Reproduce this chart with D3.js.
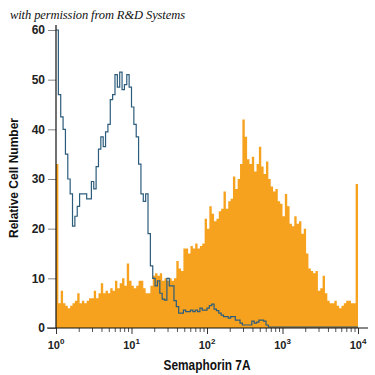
<!DOCTYPE html>
<html>
<head>
<meta charset="utf-8">
<script src="https://cdn.jsdelivr.net/npm/d3@7"></script>
<style>
  body { margin: 0; background: #fff; }
  svg { display: block; }
</style>
</head>
<body>
<svg id="chart"></svg>
<script>
// channel counts, 128 log-spaced bins from 10^0 to 10^4
var stained = [33, 5, 7.5, 5, 4.5, 4, 4.5, 5, 5.5, 7, 5, 5.5, 5, 5.5, 6, 6,
  7.5, 6, 7, 9, 7, 7.5, 7, 8, 7.5, 9.5, 8, 9, 10, 8.5, 13, 9.5,
  8.5, 8, 8.5, 9.5, 9.5, 8, 7, 7, 8.5, 10.5, 11, 10.5, 11, 9.5, 10, 9.5,
  10, 9.5, 10, 13.5, 12, 11.5, 16, 16, 15, 16.5, 16, 17, 16, 16.5, 17, 22,
  20, 24.5, 23, 21.5, 22, 23.5, 24, 27.5, 24, 25.5, 26, 30.5, 28, 30, 33, 42,
  38.5, 34, 33, 34.5, 31.5, 33, 36.5, 32.5, 31, 33.5, 30, 28.5, 27.5, 28, 25.5, 25,
  22.5, 27, 24.5, 21, 20.5, 22.5, 21, 21.5, 19, 20, 15, 12, 11.5, 11, 11.5, 7.5,
  8, 10.5, 7, 5.5, 5, 5, 5.5, 4.5, 4, 4.5, 5, 5.5, 5.5, 5, 5, 29];

var control = [60, 47, 42.5, 40, 35, 30, 27, 20.5, 22.5, 24.5, 27, 27, 27, 26, 26, 29.5,
  28, 32.5, 36, 38.5, 36.5, 39.5, 41, 46, 47, 51, 48.5, 51.5, 48, 49, 51, 48.5,
  44.5, 41, 38.5, 33, 27, 25.5, 27, 19, 12.5, 10, 8.5, 9.5, 7, 5.8, 5.6, 10,
  8.5, 8.5, 5.5, 4.3, 3, 3, 3.6, 3.3, 3.3, 3.6, 3.3, 3.6, 3.3, 4, 3.6, 3.6,
  4, 4.5, 4.8, 3.8, 3.5, 3, 2.6, 2.3, 2.3, 2, 2.3, 2.3, 1.6, 1.6, 1, 0.6,
  0.6, 0.6, 0.6, 1.4, 1, 1.2, 1.6, 1.6, 1.4, 0.6, 0.2, 0.2, 0.2, 0.2, 0.2, 0.2,
  0.2, 0.2, 0.2, 0.2, 0.2, 0.2, 0.2, 0.2, 0.2, 0.2, 0.2, 0.2, 0.2, 0.2, 0.2, 0.2,
  0.2, 0.2, 0.2, 0.2, 0.2, 0.2, 0.2, 0.2, 0.2, 0.2, 0.2, 0.2, 0.2, 0.2, 0.2, 0.2];

var yTicks = [0, 10, 20, 30, 40, 50, 60];
var decades = [0, 1, 2, 3, 4];

var width = 375, height = 375;
var svg = d3.select("#chart")
  .attr("width", width)
  .attr("height", height);

var x = d3.scaleLog().domain([1, 1e4]).range([56, 358]);
var y = d3.scaleLinear().domain([0, 60]).range([328, 30]);

var n = stained.length;
var edges = d3.range(n + 1).map(function(i) { return Math.pow(10, 4 * i / n); });

function steps(vals) {
  var pts = vals.map(function(v, i) { return [edges[i], v]; });
  pts.push([edges[n], vals[n - 1]]);
  return pts;
}

var area = d3.area()
  .curve(d3.curveStepAfter)
  .x(function(d) { return x(d[0]); })
  .y0(y(0))
  .y1(function(d) { return y(d[1]); });

var line = d3.line()
  .curve(d3.curveStepAfter)
  .x(function(d) { return x(d[0]); })
  .y(function(d) { return y(d[1]); });

svg.append("path")
  .attr("d", area(steps(stained)))
  .style("fill", "#f6a21e");

svg.append("path")
  .attr("d", line(steps(control)))
  .style("fill", "none")
  .style("stroke", "#2c5c7c")
  .style("stroke-width", "1.2px");

// y axis
var yAxis = svg.append("g")
  .attr("transform", "translate(56,0)")
  .call(d3.axisLeft(y).tickValues(yTicks).tickSize(8).tickPadding(3));
yAxis.select(".domain").remove();
yAxis.selectAll("line").attr("stroke", "#888");
yAxis.selectAll("text")
  .style("font-family", "'Liberation Sans', Arial, sans-serif")
  .style("font-size", "12px")
  .style("font-weight", "bold")
  .style("fill", "#222");

svg.append("line")
  .attr("x1", 56).attr("x2", 56)
  .attr("y1", 25).attr("y2", 328)
  .attr("stroke", "#111").attr("stroke-width", 1.2);

// x axis: major and minor ticks
var minor = [];
decades.slice(0, -1).forEach(function(k) {
  for (var m = 2; m < 10; m++) minor.push(m * Math.pow(10, k));
});

var xMinor = svg.append("g")
  .attr("transform", "translate(0,328)")
  .call(d3.axisBottom(x).tickValues(minor).tickSize(4).tickFormat(""));
xMinor.select(".domain").remove();
xMinor.selectAll("line").attr("stroke", "#555");

var xMajor = svg.append("g")
  .attr("transform", "translate(0,328)")
  .call(d3.axisBottom(x)
    .tickValues(decades.map(function(k) { return Math.pow(10, k); }))
    .tickSize(6).tickFormat(""));
xMajor.select(".domain").remove();
xMajor.selectAll("line").attr("stroke", "#333");

svg.append("line")
  .attr("x1", 47).attr("x2", 368)
  .attr("y1", 328).attr("y2", 328)
  .attr("stroke", "#111").attr("stroke-width", 1.2);

var lab = svg.append("g")
  .selectAll("text")
  .data(decades)
  .enter().append("text")
  .attr("x", function(k) { return x(Math.pow(10, k)); })
  .attr("y", 349)
  .attr("text-anchor", "middle")
  .style("font-family", "'Liberation Sans', Arial, sans-serif")
  .style("font-size", "11px")
  .style("font-weight", "600")
  .style("fill", "#222");
lab.append("tspan").text("10");
lab.append("tspan")
  .attr("dy", -5)
  .style("font-size", "8px")
  .text(function(k) { return k; });

// titles
svg.append("text")
  .attr("x", 207).attr("y", 370)
  .attr("text-anchor", "middle")
  .attr("textLength", 87)
  .attr("lengthAdjust", "spacingAndGlyphs")
  .style("font-family", "'Liberation Sans', Arial, sans-serif")
  .style("font-size", "14px")
  .style("font-weight", "bold")
  .style("fill", "#111")
  .text("Semaphorin 7A");

svg.append("text")
  .attr("transform", "translate(18,178) rotate(-90)")
  .attr("text-anchor", "middle")
  .attr("textLength", 120)
  .attr("lengthAdjust", "spacingAndGlyphs")
  .style("font-family", "'Liberation Sans', Arial, sans-serif")
  .style("font-size", "13px")
  .style("font-weight", "bold")
  .style("fill", "#111")
  .text("Relative Cell Number");

svg.append("text")
  .attr("x", 10).attr("y", 19)
  .attr("textLength", 175)
  .style("font-family", "'Liberation Serif', serif")
  .style("font-style", "italic")
  .style("font-size", "12.5px")
  .style("fill", "#111")
  .text("with permission from R&D Systems");
</script>
</body>
</html>
